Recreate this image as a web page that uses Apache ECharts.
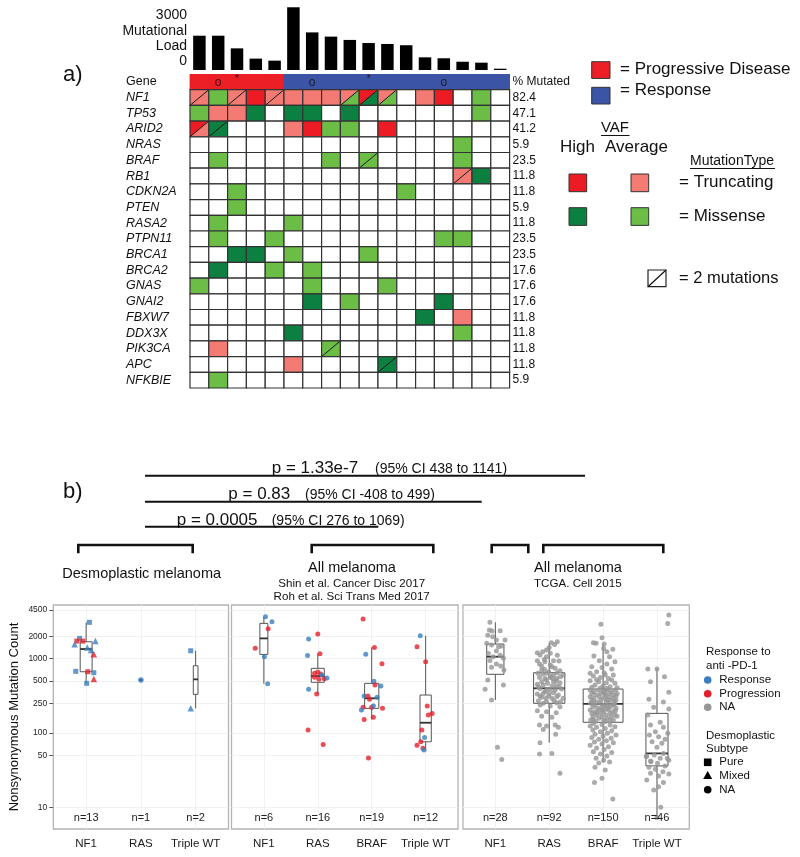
<!DOCTYPE html>
<html><head><meta charset="utf-8">
<script src="https://cdn.jsdelivr.net/npm/echarts@6/dist/echarts.min.js"></script>
<style>html,body{margin:0;padding:0;background:#fff}#c{width:800px;height:857px}</style>
</head><body><div id="c"></div>
<script>
// ---------------- DATA: panel a ----------------
const samples = ['P1','P2','P3','P4','P5','P6','P7','P8','P9','P10','P11','P12','P13','P14','P15','P16','P17'];
const mutationalLoad = [1870, 1870, 1180, 620, 510, 3420, 2050, 1820, 1640, 1470, 1420, 1350, 690, 640, 450, 400, 70];
const loadTicks = [0, 3000];
const responseGroup = ['PD','PD','PD','PD','PD','R','R','R','R','R','R','R','R','R','R','R','R'];
const headerMarks = ['', 'o', '*', '', '', '', 'o', '', '', '*', '', '', '', 'o', '', '', ''];
const genes = ['NF1','TP53','ARID2','NRAS','BRAF','RB1','CDKN2A','PTEN','RASA2','PTPN11','BRCA1','BRCA2','GNAS','GNAI2','FBXW7','DDX3X','PIK3CA','APC','NFKBIE'];
const pctMutated = ['82.4','47.1','41.2','5.9','23.5','11.8','11.8','5.9','11.8','23.5','23.5','17.6','17.6','17.6','11.8','11.8','11.8','11.8','5.9'];
// codes: T = truncating high VAF, t = truncating average, M = missense high, m = missense average, a/b = 2 mutations
const NF1    = ['t/t','m','t/t','T','t/t','t','t','t','t/m','T/M','t/m','','t','T','','m',''];
const TP53   = ['m','t','t','M','','M','M','','M','','','','','','','m',''];
const ARID2  = ['T/t','M/M','','','','t','T','m','m','','T','','','','','',''];
const NRAS   = ['','','','','','','','','','','','','','','m','',''];
const BRAF   = ['','m','','','','','','m','','m/m','','','','','m','',''];
const RB1    = ['','','','','','','','','','','','','','','t/t','M',''];
const CDKN2A = ['','','m','','','','','','','','','m','','','','',''];
const PTEN   = ['','','m','','','','','','','','','','','','','',''];
const RASA2  = ['','m','','','','m','','','','','','','','','','',''];
const PTPN11 = ['','m','','','m','','','','','','','','','m','m','',''];
const BRCA1  = ['','','M','M','','m','','','','m','','','','','','',''];
const BRCA2  = ['','M','','','m','','m','','','','','','','','','',''];
const GNAS   = ['m','','','','','','m','','','','m','','','','','',''];
const GNAI2  = ['','','','','','','M','','m','','','','','M','','',''];
const FBXW7  = ['','','','','','','','','','','','','M','','t','',''];
const DDX3X  = ['','','','','','M','','','','','','','','','m','',''];
const PIK3CA = ['','t','','','','','','m/m','','','','','','','','',''];
const APC    = ['','','','','','t','','','','','M/M','','','','','',''];
const NFKBIE = ['','m','','','','','','','','','','','','','','',''];
const mutationRows = [NF1,TP53,ARID2,NRAS,BRAF,RB1,CDKN2A,PTEN,RASA2,PTPN11,BRCA1,BRCA2,GNAS,GNAI2,FBXW7,DDX3X,PIK3CA,APC,NFKBIE];

// ---------------- DATA: panel b ----------------
const desmoCats = ['NF1','RAS','Triple WT'];
const cohortCats = ['NF1','RAS','BRAF','Triple WT'];
const countTicks = [10, 50, 100, 250, 500, 1000, 2000, 4500];
const nDesmo = [13, 1, 2];
const nCohort = [6, 16, 19, 12];
const nTcga = [28, 92, 150, 46];
// [group, jitter, count, response, subtype]
const desmoPoints = [
 [1,0.06,3070,'R','Pure'],[1,-0.12,1866,'R','Pure'],[1,-0.17,1718,'PD','Pure'],[1,-0.06,1718,'PD','Pure'],
 [1,-0.21,1552,'R','Mixed'],[1,0.17,1718,'R','Mixed'],[1,0.02,1413,'R','Mixed'],[1,0.09,1300,'R','Mixed'],
 [1,0.14,1138,'PD','Mixed'],[1,-0.19,673,'R','Pure'],[1,0.03,665,'PD','Pure'],[1,0.14,645,'R','Pure'],
 [1,0.14,530,'PD','Mixed'],[1,0.01,464,'R','Pure'],
 [2,0.0,514,'R','NA'],
 [3,-0.09,1273,'R','Pure'],[3,-0.09,214,'R','Mixed']
];
// [group, min, q1, median, q3, max]
const desmoBoxes = [[1,464,665,1343,1683,3070],[2,514,514,514,514,514],[3,214,330,525,800,1273]];
// [group, jitter, count, response]
const cohortPoints = [
 [1,0.03,3650,'R'],[1,0.15,3130,'R'],[1,0.08,2515,'PD'],[1,-0.16,1371,'PD'],[1,0.01,1058,'R'],[1,0.07,458,'R'],
 [2,0.0,2134,'PD'],[2,-0.17,1828,'R'],[2,-0.19,1103,'R'],[2,0.04,1162,'PD'],[2,-0.06,633,'PD'],[2,0.0,659,'PD'],
 [2,0.05,620,'PD'],[2,0.08,600,'R'],[2,-0.06,559,'PD'],[2,0.02,525,'PD'],[2,0.12,536,'PD'],[2,0.17,548,'R'],
 [2,-0.17,385,'R'],[2,-0.02,333,'PD'],[2,-0.18,109,'PD'],[2,0.10,70,'PD'],
 [3,-0.16,3396,'PD'],[3,0.05,1413,'PD'],[3,-0.11,1138,'R'],[3,0.19,852,'PD'],[3,0.04,494,'R'],[3,0.06,441,'PD'],
 [3,0.17,427,'R'],[3,-0.14,313,'R'],[3,-0.07,313,'PD'],[3,0.10,301,'R'],[3,-0.04,283,'PD'],[3,-0.16,221,'PD'],
 [3,0.0,221,'PD'],[3,0.03,232,'R'],[3,0.20,214,'PD'],[3,-0.19,203,'R'],[3,-0.14,152,'PD'],[3,0.03,162,'PD'],[3,-0.06,46,'PD'],
 [4,-0.10,2025,'R'],[4,-0.16,1441,'PD'],[4,0.0,906,'PD'],[4,0.03,230,'PD'],[4,0.12,183,'PD'],[4,0.05,174,'PD'],
 [4,-0.07,109,'PD'],[4,-0.02,87,'R'],[4,-0.09,76,'PD'],[4,-0.16,68,'PD'],[4,-0.05,62,'PD'],[4,-0.03,59,'R']
];
const cohortBoxes = [[1,458,1137,1867,2972,3650],[2,333,479,582,738,1162],[3,152,214,292,464,1413],[4,59,76,137,323,2025]];
// TCGA: [jitter, count]
const tcgaNF1 = [[-0.10,3070],[-0.11,2416],[-0.06,2340],[0.09,2365],[-0.14,2060],[-0.05,1965],[0.02,1770],[0.18,1770],
 [-0.16,1600],[-0.07,1520],[0.06,1440],[0.12,1470],[0.02,1260],[-0.13,1170],[0.09,1110],[-0.04,1059],[0.15,1010],
 [-0.10,940],[0.02,845],[0.10,795],[-0.07,765],[0.16,700],[-0.14,515],[0.15,440],[-0.19,385],[-0.07,277],[0.04,64],[0.12,44]];
const tcgaRAS = [[0.04,1630],[0.15,1684],[0.10,1550],[0.0,1413],[-0.05,1300],[-0.22,1200],[-0.12,1236],[0.02,1174],
 [-0.17,1115],[0.15,1104],[-0.05,1059],[-0.22,935],[-0.09,975],[0.08,935],[0.18,925],[-0.18,843],[0.02,818],[0.11,738],
 [-0.14,701],[0.20,687],[-0.21,632],[-0.05,632],[0.08,600],[0.26,600],[-0.18,558],[-0.08,541],[0.02,558],[0.14,541],
 [-0.14,488],[0.08,488],[0.20,474],[-0.22,450],[-0.03,464],[0.13,431],[-0.17,397],[0.02,385],[0.23,389],[-0.08,358],
 [0.08,347],[-0.22,333],[0.17,323],[-0.01,313],[-0.14,301],[0.05,292],[0.26,292],[-0.20,271],[-0.05,263],[0.14,255],
 [-0.17,237],[0.02,230],[0.20,225],[-0.22,199],[-0.05,193],[0.13,187],[-0.14,168],[0.05,162],[-0.18,128],[-0.05,124],
 [0.11,128],[0.17,119],[-0.11,111],[0.12,96],[-0.17,74],[-0.18,52],[0.05,53],[0.20,28.6],
 [-0.08,907],[0.05,777],[-0.09,716],[-0.01,666],[0.15,645],[-0.12,619],[0.02,582],[0.21,570],[-0.05,514],[0.13,503],
 [-0.11,440],[0.05,427],[-0.20,418],[0.19,410],[-0.05,377],[0.11,377],[-0.11,340],[0.14,307],[-0.06,292],[-0.17,313],
 [0.09,271],[0.21,263],[-0.11,250],[0.0,340],[0.07,541],[-0.14,793]];
const tcgaBRAF = [[-0.04,2900],[-0.02,1900],[-0.18,1630],[-0.13,1600],[0.02,1570],[0.01,1370],[0.18,1330],[0.07,1236],
 [-0.17,1080],[0.12,1059],[-0.07,935],[0.22,907],[0.07,843],[-0.21,777],[-0.02,760],[0.16,723],[-0.12,666],[0.02,645],
 [0.19,600],[-0.18,582],[-0.05,558],[0.10,541],[-0.24,503],[-0.08,488],[0.06,474],[0.22,464],[-0.15,440],[0.0,427],
 [0.13,418],[-0.21,410],[-0.05,401],[0.26,405],[0.07,397],[-0.12,520],[0.16,514],[0.04,600],[-0.24,632],
 [-0.24,377],[-0.09,377],[0.08,377],[0.23,377],[-0.17,358],[0.0,358],[0.16,358],[-0.21,340],[-0.05,340],[0.12,340],[0.26,340],
 [-0.13,323],[0.04,323],[0.19,323],[-0.24,307],[-0.07,307],[0.10,307],[-0.17,292],[0.01,292],[0.18,292],
 [-0.21,277],[-0.04,277],[0.13,277],[0.24,277],[-0.12,263],[0.06,263],[0.21,263],[-0.23,250],[-0.05,250],[0.11,250],
 [-0.15,237],[0.02,237],[0.19,237],[-0.19,225],[-0.02,225],[0.14,225],[-0.10,214],[0.07,214],[0.24,214],
 [-0.24,203],[-0.07,203],[0.10,203],[-0.16,193],[0.01,193],[0.18,193],[-0.21,183],[-0.04,183],[0.13,183],
 [-0.12,174],[0.05,174],[0.22,174],[-0.19,165],[-0.02,165],[0.15,165],[-0.08,157],[0.08,157],[-0.23,149],[0.01,149],[0.19,149],
 [-0.14,142],[0.04,142],
 [0.02,370],[0.03,333],[0.24,313],[0.07,283],[-0.18,255],[0.21,245],[0.08,230],[0.0,207],[0.23,199],[-0.12,187],[0.26,168],[-0.18,152],[0.13,146],
 [-0.18,134],[-0.02,130],[0.13,128],[-0.24,124],[0.22,121],[-0.12,119],[0.04,115],[-0.19,109],[0.16,107],[-0.05,104],
 [0.08,99],[-0.15,96],[0.24,94],[0.0,91],[-0.21,87],[0.15,85],[-0.08,82],[0.06,78.5],[-0.16,75.5],[0.19,73.5],
 [-0.02,71],[-0.24,68],[0.10,65],[-0.12,62.5],[0.02,60],[-0.18,56],[0.16,54.5],[-0.05,52],[0.07,49],[-0.13,45.5],
 [0.01,43],[0.12,40.5],[-0.08,39.5],[-0.15,34.5],[-0.02,24.5],[-0.16,21.5],[0.18,12.9],[0.04,31.7]];
const tcgaTWT = [[0.22,3843],[0.20,2970],[-0.17,723],[0.0,723],[0.14,570],[-0.12,488],[0.22,351],[-0.15,283],[0.12,260],
 [-0.06,221],[0.22,210],[-0.17,174],[0.06,139],[-0.12,128],[0.12,119],[-0.03,104],[0.20,99],[-0.14,94],[0.03,89],
 [0.15,82],[-0.09,76],[0.09,72.5],[-0.19,49],[0.0,64],[0.19,45.5],[-0.12,42],[0.12,53],[-0.05,50.5],[-0.20,48],
 [0.06,45.5],[0.22,43],[-0.11,41],[0.01,39],[0.15,36],[-0.15,34.5],[-0.03,32.5],[0.11,30],[-0.12,28.6],[0.22,28],
 [0.03,26.3],[-0.19,23.3],[0.12,21.5],[0.03,18.9],[-0.06,17],[0.07,10],[0.0,7.3]];
const tcgaGroups = [tcgaNF1, tcgaRAS, tcgaBRAF, tcgaTWT];
const tcgaBoxes = [[1,277,614,1059,1567,3070],[2,74,250,398,645,1631],[3,40,139,245,389,1567],[4,7,36,53,183,738]];

// ---------------- styling ----------------
const FONT = '"Liberation Sans", Arial, Helvetica, sans-serif';
const colorMap = {T:'#ED1C24', t:'#F37B73', M:'#0C8040', m:'#6BBD46'};
const respColor = {R:'#3A7FC0', PD:'#E3202A', NA:'#969696'};
const shapeMap = {Pure:'rect', Mixed:'triangle', NA:'circle'};
const shapeSize = {Pure:5, Mixed:6.5, NA:5.5};
const L10 = v => Math.log10(v);
const yMin = L10(5.1), yMax = L10(5250);

const chart = echarts.init(document.getElementById('c'));

// heatmap cell data
const cellData = [];
mutationRows.forEach((row, r) => row.forEach((code, c) => cellData.push({c, r: r + 1, code})));
const headerData = samples.map((s, c) => [c, 0]);

function renderHeader(params, api) {
  const c = api.value(0);
  const p = api.coord([c, 0]);
  const s = api.size([1, 1]);
  const fill = responseGroup[c] === 'PD' ? '#EC1E26' : '#3B54A5';
  const children = [{type:'rect', shape:{x:p[0]-s[0]/2-0.4, y:p[1]-s[1]/2, width:s[0]+0.8, height:s[1]}, style:{fill}}];
  const mk = headerMarks[c];
  if (mk) {
    children.push({type:'text', style:{text: mk, x:p[0], y: mk === '*' ? p[1]-3 : p[1]+0.5, align:'center', verticalAlign:'middle',
      font: (mk === '*' ? '11px ' : '12px ') + FONT, fill:'rgba(20,10,10,0.8)'}});
  }
  return {type:'group', children};
}
function renderCell(params, api) {
  const d = cellData[params.dataIndex];
  const p = api.coord([d.c, d.r]);
  const s = api.size([1, 1]);
  const x0 = p[0]-s[0]/2, y0 = p[1]-s[1]/2, w = s[0], h = s[1];
  const children = [];
  if (d.code.indexOf('/') >= 0) {
    const parts = d.code.split('/');
    children.push({type:'polygon', shape:{points:[[x0,y0],[x0+w,y0],[x0,y0+h]]}, style:{fill:colorMap[parts[0]]}});
    children.push({type:'polygon', shape:{points:[[x0+w,y0],[x0+w,y0+h],[x0,y0+h]]}, style:{fill:colorMap[parts[1]]}});
    children.push({type:'line', shape:{x1:x0, y1:y0+h, x2:x0+w, y2:y0}, style:{stroke:'#111', lineWidth:1}});
  } else {
    children.push({type:'rect', shape:{x:x0, y:y0, width:w, height:h}, style:{fill: d.code ? colorMap[d.code] : '#fff'}});
  }
  children.push({type:'rect', shape:{x:x0, y:y0, width:w, height:h}, style:{fill:'none', stroke:'#333', lineWidth:1.2}});
  return {type:'group', children};
}
function boxRenderer(boxes, nArr) {
  return function (params, api) {
    const b = boxes[params.dataIndex];
    const n = nArr[params.dataIndex];
    const x = b[0];
    const half = api.size([0.0604 * Math.sqrt(n), 0])[0] / 2;
    const pLo = api.coord([x, L10(b[1])]), pQ1 = api.coord([x, L10(b[2])]), pMed = api.coord([x, L10(b[3])]);
    const pQ3 = api.coord([x, L10(b[4])]), pHi = api.coord([x, L10(b[5])]);
    const cx = pMed[0];
    const st = {stroke:'#555', lineWidth:1};
    return {type:'group', children:[
      {type:'line', shape:{x1:cx, y1:pHi[1], x2:cx, y2:pQ3[1]}, style:st},
      {type:'line', shape:{x1:cx, y1:pQ1[1], x2:cx, y2:pLo[1]}, style:st},
      {type:'rect', shape:{x:cx-half, y:pQ3[1], width:half*2, height:Math.max(0.01, pQ1[1]-pQ3[1])}, style:{fill:'#fff', stroke:'#555', lineWidth:1}},
      {type:'line', shape:{x1:cx-half, y1:pMed[1], x2:cx+half, y2:pMed[1]}, style:{stroke:'#333', lineWidth:1.8}}
    ]};
  };
}
function nRenderer(nArr) {
  return function (params, api) {
    const p = api.coord([params.dataIndex + 1, L10(7.25)]);
    return {type:'text', style:{text:'n=' + nArr[params.dataIndex], x:p[0], y:p[1], align:'center', verticalAlign:'middle', font:'11px ' + FONT, fill:'#222'}};
  };
}

const panelGrids = [
  {left:53.3, top:605, width:175.2, height:224},
  {left:231.5, top:605, width:226.5, height:224},
  {left:463, top:605, width:226.3, height:224}
];
const grids = [
  {left:190, top:5.8, width:319.6, height:64.2},
  {left:190, top:74, width:319.6, height:314}
].concat(panelGrids.map(g => Object.assign({show:true, borderColor:'#b4b4b4', borderWidth:1.3, backgroundColor:'#fff'}, g)));

function panelX(gi, cats) {
  const vals = cats.map((c, i) => i + 1);
  return {type:'value', gridIndex:gi, min:0.4, max:cats.length + 0.6,
    axisLine:{show:false}, axisTick:{show:false, customValues:vals},
    axisLabel:{customValues:vals, formatter: v => cats[Math.round(v) - 1], margin:9, fontSize:11.5, color:'#1a1a1a', fontFamily:FONT},
    splitLine:{show:true, lineStyle:{color:'#efefef', width:0.8}}};
}
function panelY(gi, showLabels) {
  const vals = countTicks.map(L10);
  return {type:'value', gridIndex:gi, min:yMin, max:yMax,
    axisLine:{show:false},
    axisTick:{show:showLabels, customValues:vals, length:4, lineStyle:{color:'#555'}},
    axisLabel:{show:showLabels, customValues:vals, formatter: v => String(Math.round(Math.pow(10, v))), fontSize:8.5, color:'#222', margin:6, fontFamily:FONT},
    splitLine:{show:true, lineStyle:{color:'#ededed', width:0.8}},
    name: showLabels ? 'Nonsynonymous Mutation Count' : '', nameLocation:'middle', nameGap:32,
    nameTextStyle:{fontSize:13, color:'#111', fontFamily:FONT}};
}

const desmoScatter = desmoPoints.map(d => ({value:[d[0] + d[1], L10(d[2])], symbol:shapeMap[d[4]], symbolSize:shapeSize[d[4]], itemStyle:{color:respColor[d[3]]}}));
const cohortScatter = cohortPoints.map(d => ({value:[d[0] + d[1], L10(d[2])], itemStyle:{color:respColor[d[3]]}}));
const tcgaScatter = [];
tcgaGroups.forEach((grp, gi) => grp.forEach(d => tcgaScatter.push([gi + 1 + d[0], L10(d[1])])));

// ---------------- graphics (legends, annotations) ----------------
const G = [];
function txt(text, x, y, size, opts) {
  G.push(Object.assign({type:'text', x, y, style:Object.assign({text, font: size + 'px ' + FONT, fill:'#111', verticalAlign:'middle', align:'left'}, opts || {})}));
}
function line(x1, y1, x2, y2, w) { G.push({type:'line', shape:{x1, y1, x2, y2}, style:{stroke:'#111', lineWidth:w}}); }
function sq(x, y, w, h, fill) { G.push({type:'rect', shape:{x, y, width:w, height:h}, style:{fill, stroke:'#333', lineWidth:1}}); }

txt('a)', 63, 75, 22);
txt('b)', 63, 492, 22);
txt('Mutational', 187, 31, 14, {align:'right'});
txt('Load', 187, 46, 14, {align:'right'});
// panel a legend
sq(591.7, 61.7, 18.3, 16.7, '#EC1E26'); txt('= Progressive Disease', 620, 69.5, 17);
sq(591.7, 87.3, 18.3, 16.7, '#3B54A5'); txt('= Response', 620, 90.5, 17);
txt('VAF', 615, 127.7, 15, {align:'center'}); line(601, 135.5, 629.5, 135.5, 1);
txt('High', 560, 147.5, 17); txt('Average', 605, 147.5, 17);
txt('MutationType', 690, 161, 14); line(690, 168.5, 775, 168.5, 1);
sq(569, 174, 17.7, 17.7, colorMap.T); sq(631, 174, 17.7, 17.7, colorMap.t); txt('= Truncating', 679, 182.7, 17);
sq(569, 207.7, 17.7, 17.7, colorMap.M); sq(631, 207.7, 17.7, 17.7, colorMap.m); txt('= Missense', 679, 216.5, 17);
G.push({type:'rect', shape:{x:648, y:270, width:18, height:16.7}, style:{fill:'#fff', stroke:'#222', lineWidth:1.2}});
line(648, 286.7, 666, 270, 1.2); txt('= 2 mutations', 679, 278, 16.5);
// p-values
txt('p = 1.33e-7', 271.7, 468.3, 17); txt('(95% CI 438 to 1141)', 375, 469.3, 14);
line(145, 475.7, 585, 475.7, 2);
txt('p = 0.83', 228.3, 494.3, 17); txt('(95% CI -408 to 499)', 305, 495.3, 14);
line(145, 501.7, 481.7, 501.7, 2);
txt('p = 0.0005', 176.7, 520, 17); txt('(95% CI 276 to 1069)', 271.7, 521, 14);
line(145, 526.7, 378.3, 526.7, 2);
// brackets
[[78.3,192.7],[311.7,433.3],[491.7,528.3],[543.3,663.3]].forEach(b => {
  G.push({type:'polyline', shape:{points:[[b[0],553.3],[b[0],545],[b[1],545],[b[1],553.3]]}, style:{stroke:'#111', lineWidth:2.6, fill:null}});
});
txt('Desmoplastic melanoma', 141.7, 574, 14.5, {align:'center'});
txt('All melanoma', 352, 568.3, 14.5, {align:'center'});
txt('Shin et al. Cancer Disc 2017', 351.7, 583.3, 11.6, {align:'center'});
txt('Roh et al. Sci Trans Med 2017', 351.7, 597, 11.6, {align:'center'});
txt('All melanoma', 534, 568.3, 14.5);
txt('TCGA. Cell 2015', 534, 583.3, 11.6);
// panel b legend
txt('Response to', 706, 652.3, 11.5); txt('anti -PD-1', 706, 666, 11.5);
[['Response', respColor.R, 680], ['Progression', respColor.PD, 693.7], ['NA', respColor.NA, 707.3]].forEach(e => {
  G.push({type:'circle', shape:{cx:707.7, cy:e[2], r:3.8}, style:{fill:e[1]}}); txt(e[0], 719.3, e[2], 11.5);
});
txt('Desmoplastic', 706, 735.7, 11.5); txt('Subtype', 706, 749, 11.5);
G.push({type:'rect', shape:{x:703.9, y:758.5, width:7.6, height:7.6}, style:{fill:'#000'}}); txt('Pure', 719.3, 762.3, 11.5);
G.push({type:'polygon', shape:{points:[[707.7,771],[712.2,779],[703.2,779]]}, style:{fill:'#000'}}); txt('Mixed', 719.3, 775.5, 11.5);
G.push({type:'circle', shape:{cx:707.7, cy:789.7, r:3.8}, style:{fill:'#000'}}); txt('NA', 719.3, 789.7, 11.5);

const option = {
  animation:false,
  backgroundColor:'#fff',
  textStyle:{fontFamily:FONT},
  grid: grids,
  xAxis: [
    {type:'category', gridIndex:0, data:samples, show:false},
    {type:'category', gridIndex:1, data:samples, show:false},
    panelX(2, desmoCats), panelX(3, cohortCats), panelX(4, cohortCats)
  ],
  yAxis: [
    {type:'value', gridIndex:0, min:0, max:3500, splitLine:{show:false}, axisLine:{show:false}, axisTick:{show:false},
     axisLabel:{customValues:loadTicks, margin:3, fontSize:14, color:'#111', fontFamily:FONT,
       formatter: v => v === 0 ? '{z|0}' : '{t|' + v + '}', rich:{z:{padding:[0,0,18,0], fontSize:14}, t:{fontSize:14}}}},
    {type:'category', gridIndex:1, data:['Gene'].concat(genes), inverse:true, axisLine:{show:false}, axisTick:{show:false},
     axisLabel:{align:'left', margin:64, color:'#111', fontFamily:FONT,
       formatter: (v, i) => i === 0 ? '{n|' + v + '}' : '{i|' + v + '}',
       rich:{n:{fontSize:12.5, fontFamily:FONT}, i:{fontSize:12.5, fontStyle:'italic', fontFamily:FONT}}}},
    {type:'category', gridIndex:1, position:'right', data:['% Mutated'].concat(pctMutated), inverse:true,
     axisLine:{show:false}, axisTick:{show:false}, axisLabel:{margin:3, fontSize:12, color:'#111', fontFamily:FONT}},
    panelY(2, true), panelY(3, false), panelY(4, false)
  ],
  series: [
    {type:'bar', xAxisIndex:0, yAxisIndex:0, data:mutationalLoad, barWidth:12.5, itemStyle:{color:'#000'}},
    {type:'custom', xAxisIndex:1, yAxisIndex:1, data:headerData, renderItem:renderHeader},
    {type:'custom', xAxisIndex:1, yAxisIndex:1, data:cellData.map(d => [d.c, d.r]), renderItem:renderCell, z:3},
    {type:'custom', xAxisIndex:2, yAxisIndex:3, data:desmoBoxes.map(b => [b[0], L10(b[3])]), renderItem:boxRenderer(desmoBoxes, nDesmo)},
    {type:'custom', xAxisIndex:3, yAxisIndex:4, data:cohortBoxes.map(b => [b[0], L10(b[3])]), renderItem:boxRenderer(cohortBoxes, nCohort)},
    {type:'custom', xAxisIndex:4, yAxisIndex:5, data:tcgaBoxes.map(b => [b[0], L10(b[3])]), renderItem:boxRenderer(tcgaBoxes, nTcga)},
    {type:'scatter', xAxisIndex:2, yAxisIndex:3, data:desmoScatter, z:5},
    {type:'scatter', xAxisIndex:3, yAxisIndex:4, data:cohortScatter, symbolSize:5, z:5},
    {type:'scatter', xAxisIndex:4, yAxisIndex:5, data:tcgaScatter, symbolSize:5, itemStyle:{color:respColor.NA}, z:5},
    {type:'custom', xAxisIndex:2, yAxisIndex:3, data:nDesmo.map((n, i) => [i + 1, L10(7.25)]), renderItem:nRenderer(nDesmo), z:6},
    {type:'custom', xAxisIndex:3, yAxisIndex:4, data:nCohort.map((n, i) => [i + 1, L10(7.25)]), renderItem:nRenderer(nCohort), z:6},
    {type:'custom', xAxisIndex:4, yAxisIndex:5, data:nTcga.map((n, i) => [i + 1, L10(7.25)]), renderItem:nRenderer(nTcga), z:6}
  ],
  graphic: G
};
chart.setOption(option);
</script></body></html>
